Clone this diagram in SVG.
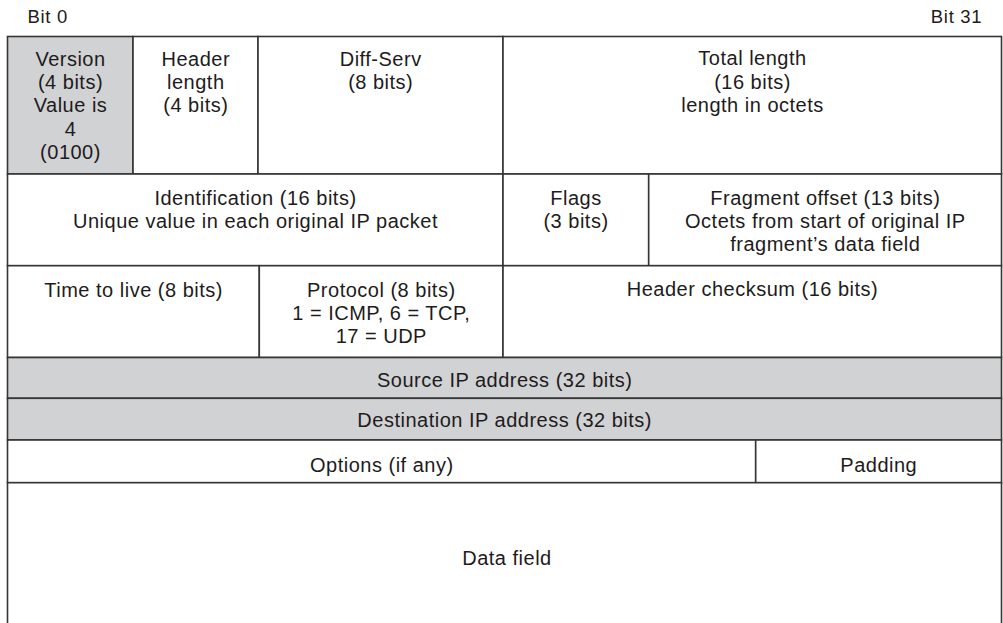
<svg xmlns="http://www.w3.org/2000/svg" width="1003" height="623" viewBox="0 0 1003 623">
<style>
.c{fill:#ffffff;stroke:#353535;stroke-width:1.6}
.g{fill:#d1d2d4;stroke:#353535;stroke-width:1.6}
text{font-family:"Liberation Sans",Arial,Helvetica,sans-serif;font-size:20px;fill:#1e1b1c;letter-spacing:0.5px}
.m{text-anchor:middle}
.b{font-size:18.5px;letter-spacing:0.7px}
</style>
<rect x="0" y="0" width="1003" height="623" fill="#ffffff"/>
<g id="bit-labels">
<text class="b" x="27.5" y="23.3">Bit 0</text>
<text class="b" x="982.3" y="23.3" text-anchor="end">Bit 31</text>
</g>
<g id="version">
<rect class="g" x="7.5" y="36.5" width="125.5" height="137.5"/>
<text class="m" x="70.5"><tspan x="70.5" y="65.7">Version</tspan><tspan x="70.5" y="89">(4 bits)</tspan><tspan x="70.5" y="112.3">Value is</tspan><tspan x="70.5" y="135.6">4</tspan><tspan x="70.5" y="158.9">(0100)</tspan></text>
</g>
<g id="header-length">
<rect class="c" x="133" y="36.5" width="125" height="137.5"/>
<text class="m"><tspan x="195.8" y="65.7">Header</tspan><tspan x="195.8" y="89">length</tspan><tspan x="195.8" y="112.3">(4 bits)</tspan></text>
</g>
<g id="diff-serv">
<rect class="c" x="258" y="36.5" width="245" height="137.5"/>
<text class="m"><tspan x="380.7" y="65.7">Diff-Serv</tspan><tspan x="380.7" y="89">(8 bits)</tspan></text>
</g>
<g id="total-length">
<rect class="c" x="503" y="36.5" width="498.5" height="137.5"/>
<text class="m"><tspan x="752.5" y="65.2">Total length</tspan><tspan x="752.5" y="88.5">(16 bits)</tspan><tspan x="752.5" y="111.8">length in octets</tspan></text>
</g>
<g id="identification">
<rect class="c" x="7.5" y="174" width="495.5" height="91.7"/>
<text class="m"><tspan x="255.5" y="204.5">Identification (16 bits)</tspan><tspan x="255.5" y="227.8">Unique value in each original IP packet</tspan></text>
</g>
<g id="flags">
<rect class="c" x="503" y="174" width="145.7" height="91.7"/>
<text class="m"><tspan x="576" y="204.5">Flags</tspan><tspan x="576" y="227.8">(3 bits)</tspan></text>
</g>
<g id="fragment-offset">
<rect class="c" x="648.7" y="174" width="352.8" height="91.7"/>
<text class="m"><tspan x="825.3" y="204.5">Fragment offset (13 bits)</tspan><tspan x="825.3" y="227.8">Octets from start of original IP</tspan><tspan x="825.3" y="251.1">fragment’s data field</tspan></text>
</g>
<g id="time-to-live">
<rect class="c" x="7.5" y="265.7" width="251.8" height="91.8"/>
<text class="m" x="133.6" y="296.5">Time to live (8 bits)</text>
</g>
<g id="protocol">
<rect class="c" x="259.3" y="265.7" width="243.7" height="91.8"/>
<text class="m"><tspan x="381.3" y="296.5">Protocol (8 bits)</tspan><tspan x="381.3" y="319.8">1 = ICMP, 6 = TCP,</tspan><tspan x="381.3" y="343.1">17 = UDP</tspan></text>
</g>
<g id="header-checksum">
<rect class="c" x="503" y="265.7" width="498.5" height="91.8"/>
<text class="m" x="752.5" y="296">Header checksum (16 bits)</text>
</g>
<g id="source-ip">
<rect class="g" x="7.5" y="357.5" width="994" height="40.8"/>
<text class="m" x="504.7" y="386.5">Source IP address (32 bits)</text>
</g>
<g id="destination-ip">
<rect class="g" x="7.5" y="398.3" width="994" height="41.7"/>
<text class="m" x="504.7" y="426.7">Destination IP address (32 bits)</text>
</g>
<g id="options">
<rect class="c" x="7.5" y="440" width="748.2" height="42.7"/>
<text class="m" x="381.8" y="471.5">Options (if any)</text>
</g>
<g id="padding">
<rect class="c" x="755.7" y="440" width="245.8" height="42.7"/>
<text class="m" x="878.8" y="471.5">Padding</text>
</g>
<g id="data-field">
<rect class="c" x="7.5" y="482.7" width="994" height="160"/>
<text class="m" x="507" y="565">Data field</text>
</g>
<g id="connectors"></g>
</svg>
